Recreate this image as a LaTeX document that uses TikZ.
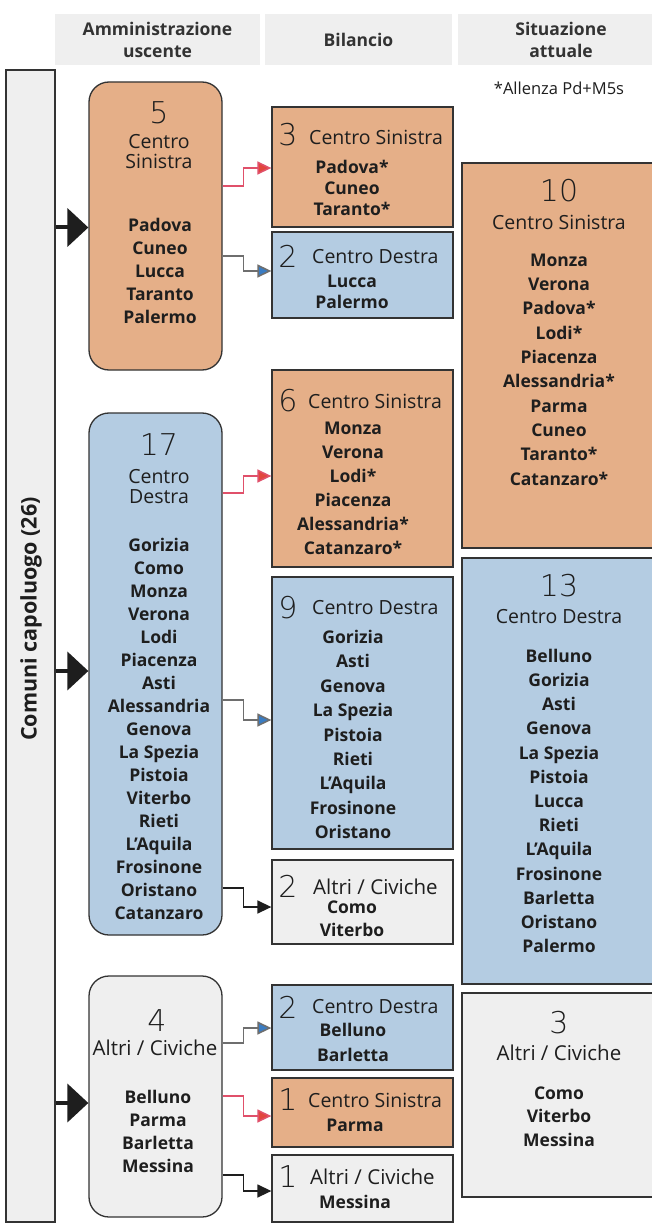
\documentclass[tikz,border=0pt]{standalone}
\usepackage{fontspec}
\setmainfont{Open Sans}
\newfontfamily\thinfont{DejaVu Sans ExtraLight}
\usetikzlibrary{arrows.meta}
\definecolor{orf}{HTML}{E5AF88}
\definecolor{blf}{HTML}{B4CCE2}
\definecolor{grf}{HTML}{EFEFEF}
\definecolor{bord}{HTML}{333333}
\definecolor{redl}{HTML}{E0506A}
\definecolor{reda}{HTML}{E2463C}
\definecolor{bluea}{HTML}{3A7CC2}
\definecolor{grayl}{HTML}{6E6E6E}
\definecolor{txt}{HTML}{1E1E1E}
\begin{document}
\begin{tikzpicture}[x=1pt,y=-1pt,
  box/.style={draw=bord, line width=1.3pt, inner sep=0pt},
  rbox/.style={box, rounded corners=20pt},
  hdr/.style={fill=grf, minimum height=51pt, inner sep=0pt, align=center, text=bord,
    font=\bfseries\fontsize{17.5}{22}\selectfont},
  num/.style={font=\thinfont\fontsize{30}{30}\selectfont, inner sep=0pt, text=txt},
  lbl/.style={font=\fontsize{19.5}{20}\selectfont, inner sep=0pt, align=center, text=txt},
  alt/.style={lbl, font=\fontsize{20.5}{21}\selectfont},
  city/.style={font=\bfseries\fontsize{17.5}{23}\selectfont, inner sep=0pt, align=center, text=txt},
  bigarrow/.style={line width=4pt, draw=txt, -{Triangle[length=21pt,width=38pt]}},
  conred/.style={line width=1.5pt, draw=redl, -{Triangle[length=14pt,width=13pt,fill=reda]}},
  conblue/.style={line width=1.5pt, draw=grayl, -{Triangle[length=14pt,width=13pt,fill=bluea]}},
  conblack/.style={line width=1.5pt, draw=txt, -{Triangle[length=14pt,width=13pt]}}
]
\useasboundingbox (0,0) rectangle (652,1230);
\fill[white] (0,0) rectangle (652,1230);

% headers
\node[hdr, minimum width=205pt] (h1) at (157.5,39.5) {Amministrazione\\uscente};
\node[hdr, minimum width=187pt] (h2) at (358.5,39.5) {Bilancio};
\node[hdr, minimum width=206pt] (h3) at (561,39.5) {Situazione\\attuale};
\node[font=\fontsize{16.5}{18}\selectfont, inner sep=0pt, text=txt] (note) at (559,88) {*Allenza Pd+M5s};

% left bar
\node[box, fill=grf, minimum width=49pt, minimum height=1152pt] (bar) at (30.5,646) {};
\node[rotate=90, inner sep=0pt, text=txt, font=\bfseries\fontsize{21.5}{22}\selectfont] (bartxt) at (31,619) {Comuni capoluogo (26)};

% left boxes
\node[rbox, fill=orf, minimum width=133pt, minimum height=288pt] (b5) at (155.5,226) {};
\node[num] (b5n) at (159,112.5) {5};
\node[lbl] (b5l) at (159,152) {Centro\\Sinistra};
\node[city] (b5c) at (160,271) {Padova\\Cuneo\\Lucca\\Taranto\\Palermo};

\node[rbox, fill=blf, minimum width=133pt, minimum height=522pt] (b17) at (155.5,674) {};
\node[num] (b17n) at (159,445) {17};
\node[lbl] (b17l) at (159,487) {Centro\\Destra};
\node[city] (b17c) at (159,729) {Gorizia\\Como\\Monza\\Verona\\Lodi\\Piacenza\\Asti\\Alessandria\\Genova\\La Spezia\\Pistoia\\Viterbo\\Rieti\\L’Aquila\\Frosinone\\Oristano\\Catanzaro};

\node[rbox, fill=grf, minimum width=133pt, minimum height=241pt] (b4) at (155.5,1096.5) {};
\node[num] (b4n) at (157,1021) {4};
\node[alt] (b4l) at (155,1048) {Altri / Civiche};
\node[city] (b4c) at (158,1131) {Belluno\\Parma\\Barletta\\Messina};

% middle boxes
\node[box, fill=orf, minimum width=181pt, minimum height=120pt] (m1) at (362.5,167) {};
\node[num] (m1n) at (288,135) {3};
\node[lbl, anchor=west] (m1l) at (309,137) {Centro Sinistra};
\node[city, font=\bfseries\fontsize{17.5}{21}\selectfont] (m1c) at (352,188) {Padova*\\Cuneo\\Taranto*};

\node[box, fill=blf, minimum width=181pt, minimum height=86pt] (m2) at (362.5,275) {};
\node[num] (m2n) at (288,256) {2};
\node[lbl, anchor=west] (m2l) at (312,257) {Centro Destra};
\node[city, font=\bfseries\fontsize{17.5}{20.5}\selectfont] (m2c) at (352,292) {Lucca\\Palermo};

\node[box, fill=orf, minimum width=181pt, minimum height=197pt] (m3) at (362.5,468.5) {};
\node[num] (m3n) at (288,401) {6};
\node[lbl, anchor=west] (m3l) at (308,401) {Centro Sinistra};
\node[city, font=\bfseries\fontsize{17.5}{24}\selectfont] (m3c) at (353,488) {Monza\\Verona\\Lodi*\\Piacenza\\Alessandria*\\Catanzaro*};

\node[box, fill=blf, minimum width=181pt, minimum height=272pt] (m4) at (362.5,713) {};
\node[num] (m4n) at (288,608) {9};
\node[lbl, anchor=west] (m4l) at (312,608) {Centro Destra};
\node[city, font=\bfseries\fontsize{17.5}{24.4}\selectfont] (m4c) at (353,734.5) {Gorizia\\Asti\\Genova\\La Spezia\\Pistoia\\Rieti\\L’Aquila\\Frosinone\\Oristano};

\node[box, fill=grf, minimum width=181pt, minimum height=84pt] (m5) at (362.5,902) {};
\node[num] (m5n) at (288,886) {2};
\node[alt, anchor=west] (m5l) at (313,887) {Altri / Civiche};
\node[city, font=\bfseries\fontsize{17.5}{23}\selectfont] (m5c) at (352,918.5) {Como\\Viterbo};

\node[box, fill=blf, minimum width=181pt, minimum height=85pt] (m6) at (362.5,1027.5) {};
\node[num] (m6n) at (288,1007) {2};
\node[lbl, anchor=west] (m6l) at (312,1007) {Centro Destra};
\node[city, font=\bfseries\fontsize{17.5}{25}\selectfont] (m6c) at (353,1042.5) {Belluno\\Barletta};

\node[box, fill=orf, minimum width=181pt, minimum height=69pt] (m7) at (362.5,1112.5) {};
\node[num] (m7n) at (288,1100) {1};
\node[lbl, anchor=west] (m7l) at (308,1100) {Centro Sinistra};
\node[city] (m7c) at (355,1125) {Parma};

\node[box, fill=grf, minimum width=181pt, minimum height=67pt] (m8) at (362.5,1188.5) {};
\node[num] (m8n) at (288,1177) {1};
\node[alt, anchor=west] (m8l) at (310,1177) {Altri / Civiche};
\node[city] (m8c) at (355,1202) {Messina};

% right boxes
\node[box, fill=orf, minimum width=194pt, minimum height=385pt] (r1) at (559,355.5) {};
\node[num] (r1n) at (559,191) {10};
\node[lbl] (r1l) at (559,222) {Centro Sinistra};
\node[city, font=\bfseries\fontsize{17.5}{24.3}\selectfont] (r1c) at (559,369.5) {Monza\\Verona\\Padova*\\Lodi*\\Piacenza\\Alessandria*\\Parma\\Cuneo\\Taranto*\\Catanzaro*};

\node[box, fill=blf, minimum width=194pt, minimum height=426pt] (r2) at (559,771) {};
\node[num] (r2n) at (559,586) {13};
\node[lbl] (r2l) at (559,617) {Centro Destra};
\node[city, font=\bfseries\fontsize{17.5}{24.2}\selectfont] (r2c) at (559,801) {Belluno\\Gorizia\\Asti\\Genova\\La Spezia\\Pistoia\\Lucca\\Rieti\\L’Aquila\\Frosinone\\Barletta\\Oristano\\Palermo};

\node[box, fill=grf, minimum width=194pt, minimum height=204pt] (r3) at (559,1095) {};
\node[num] (r3n) at (559,1023) {3};
\node[alt] (r3l) at (559,1053) {Altri / Civiche};
\node[city, font=\bfseries\fontsize{17.5}{23.5}\selectfont] (r3c) at (559,1116.5) {Como\\Viterbo\\Messina};

% big arrows from bar
\coordinate (a1) at ([yshift=-1.5pt]b5.west);
\coordinate (a2) at ([yshift=3pt]b17.west);
\coordinate (a3) at ([yshift=-6.5pt]b4.west);
\draw[bigarrow] (bar.east |- a1) -- (a1);
\draw[bigarrow] (bar.east |- a2) -- (a2);
\draw[bigarrow] (bar.east |- a3) -- (a3);

% connectors
\draw[conred] ([yshift=40pt]b5.east) -- ++(21,0) |- ([yshift=-1pt]m1.west);
\draw[conblue] ([yshift=-30pt]b5.east) -- ++(21,0) |- ([yshift=4pt]m2.west);
\draw[conred] ([yshift=181pt]b17.east) -- ++(21,0) |- ([yshift=-7.5pt]m3.west);
\draw[conblue] ([yshift=-26pt]b17.east) -- ++(21,0) |- ([yshift=-7pt]m4.west);
\draw[conblack] ([yshift=-214pt]b17.east) -- ++(21,0) |- ([yshift=-5pt]m5.west);
\draw[conblue] ([yshift=53.5pt]b4.east) -- ++(21,0) |- ([yshift=-0.5pt]m6.west);
\draw[conred] ([yshift=0.5pt]b4.east) -- ++(21,0) |- ([yshift=-3.5pt]m7.west);
\draw[conblack] ([yshift=-78.5pt]b4.east) -- ++(21,0) |- ([yshift=-2.5pt]m8.west);
\end{tikzpicture}
\end{document}
